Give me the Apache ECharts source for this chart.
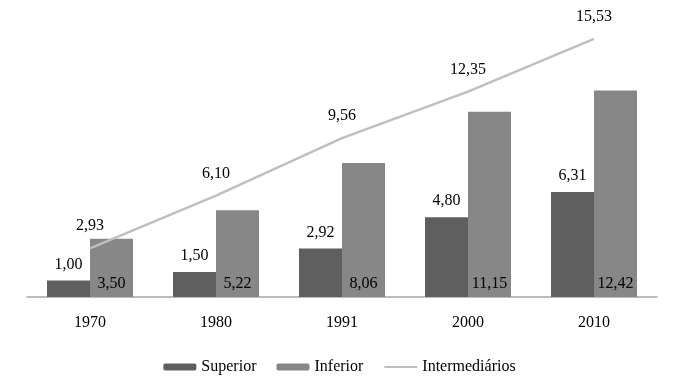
<!DOCTYPE html>
<html>
<head>
<meta charset="utf-8">
<script src="https://cdn.jsdelivr.net/npm/echarts@6/dist/echarts.min.js"></script>
<style>
html,body{margin:0;padding:0;background:#fff;}
#chart{width:679px;height:383px;}
</style>
</head>
<body>
<div id="chart"></div>
<script>
var years = ['1970', '1980', '1991', '2000', '2010'];
var superior = [1.00, 1.50, 2.92, 4.80, 6.31];
var inferior = [3.50, 5.22, 8.06, 11.15, 12.42];
var intermediarios = [2.93, 6.10, 9.56, 12.35, 15.53];

var fontFam = '"Liberation Serif", "DejaVu Serif", serif';
function fmt(p){ return p.value.toFixed(2).replace('.', ','); }

var myChart = echarts.init(document.getElementById('chart'));
var option = {
  animation: false,
  textStyle: { fontFamily: fontFam },
  grid: { left: 27, right: 22, top: 31, bottom: 86 },
  legend: {
    bottom: 3,
    left: 'center',
    itemWidth: 33,
    itemHeight: 7,
    itemGap: 20,
    textStyle: { fontFamily: fontFam, fontSize: 16, color: '#000' },
    data: ['Superior', 'Inferior', { name: 'Intermediários', itemStyle: { opacity: 0 } }]
  },
  xAxis: {
    type: 'category',
    data: years,
    axisLine: { lineStyle: { color: '#a6a6a6', width: 1.5 } },
    axisTick: { show: false },
    axisLabel: { color: '#000', fontSize: 16, fontFamily: fontFam, margin: 18 }
  },
  yAxis: {
    type: 'value',
    min: 0,
    max: 16,
    show: false,
    splitLine: { show: false }
  },
  series: [
    {
      name: 'Superior',
      type: 'bar',
      data: superior,
      barWidth: 43,
      barGap: '0%',
      itemStyle: { color: '#5f5f5f' },
      label: { show: true, position: 'top', distance: 8, color: '#000', fontSize: 16, fontFamily: fontFam, formatter: fmt }
    },
    {
      name: 'Inferior',
      type: 'bar',
      data: inferior,
      barWidth: 43,
      barGap: '0%',
      itemStyle: { color: '#878787' },
      label: { show: true, position: 'insideBottom', distance: 5, color: '#000', fontSize: 16, fontFamily: fontFam, formatter: fmt }
    },
    {
      name: 'Intermediários',
      type: 'line',
      data: intermediarios,
      symbol: 'circle',
      symbolSize: 0.1,
      lineStyle: { color: '#bfbfbf', width: 2.5 },
      itemStyle: { color: '#bfbfbf' },
      label: { show: true, position: 'top', distance: 14, color: '#000', fontSize: 16, fontFamily: fontFam, formatter: fmt }
    }
  ]
};
myChart.setOption(option);
</script>
</body>
</html>
